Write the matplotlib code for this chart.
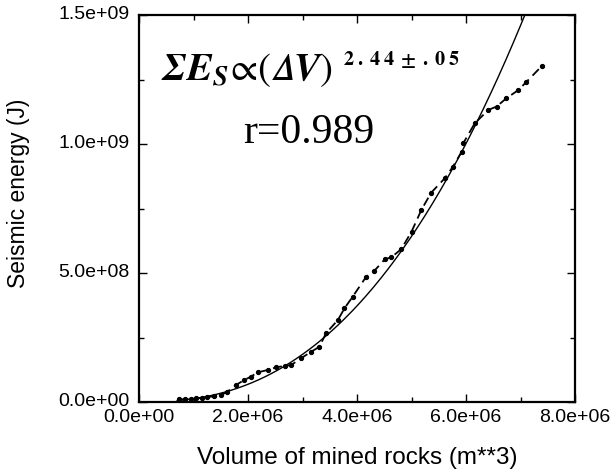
import numpy as np
import matplotlib
matplotlib.use("Agg")
import matplotlib.pyplot as plt
import matplotlib.transforms as mtransforms
from matplotlib.ticker import MultipleLocator

plt.rcParams["font.family"] = ["Liberation Sans", "DejaVu Sans"]
plt.rcParams["mathtext.fontset"] = "stix"

# cumulative mined volume (m^3) vs cumulative seismic energy (J)
volume = np.array([0.74, 0.85, 0.95, 1.05, 1.15, 1.25, 1.38, 1.50, 1.62, 1.78,
                   1.93, 2.05, 2.18, 2.36, 2.51, 2.67, 2.79, 2.97, 3.16, 3.31,
                   3.43, 3.65, 3.77, 3.92, 4.17, 4.32, 4.51, 4.63, 4.81, 5.00,
                   5.18, 5.36, 5.61, 5.76, 5.92, 5.95, 6.16, 6.41, 6.56, 6.74,
                   6.96, 7.11, 7.39]) * 1e6
energy = np.array([0.010, 0.011, 0.012, 0.014, 0.016, 0.019, 0.022, 0.026, 0.040, 0.066,
                   0.085, 0.098, 0.115, 0.124, 0.134, 0.140, 0.143, 0.169, 0.195, 0.214,
                   0.266, 0.318, 0.363, 0.408, 0.486, 0.509, 0.553, 0.561, 0.592, 0.660,
                   0.744, 0.811, 0.867, 0.912, 0.970, 1.003, 1.080, 1.132, 1.145, 1.177,
                   1.209, 1.241, 1.302]) * 1e9

# power-law fit E = a * V^2.44
exponent = 2.44
coef = 1.5e9 / (7.08e6) ** exponent

fig = plt.figure(figsize=(6.1, 4.75), dpi=100)
ax = fig.add_axes([139 / 610, 1 - 402 / 475, 436 / 610, 387 / 475])

vfit = np.linspace(0.7e6, 7.4e6, 300)
ax.plot(vfit, coef * vfit ** exponent, color="black", lw=1.0)
ax.plot(volume, energy, color="black", lw=1.3, ls=(0, (5, 3)),
        marker="o", ms=2.8, mec="black", mfc="black")

ax.set_xlim(0, 8e6)
ax.set_ylim(0, 1.5e9)
ax.xaxis.set_major_locator(MultipleLocator(2e6))
ax.xaxis.set_minor_locator(MultipleLocator(1e6))
ax.yaxis.set_major_locator(MultipleLocator(5e8))
ax.yaxis.set_minor_locator(MultipleLocator(2.5e8))
ax.xaxis.set_major_formatter(lambda v, p: f"{v:.1e}")
ax.yaxis.set_major_formatter(lambda v, p: f"{v:.1e}")
ax.tick_params(which="both", direction="in", top=True, right=True,
               labelsize=14, width=1.0, color="black")
ax.tick_params(which="major", length=6)
ax.tick_params(which="minor", length=3.5)
ax.tick_params(axis="x", which="major", pad=5)
ax.tick_params(axis="y", which="major", pad=7)
for s in ax.spines.values():
    s.set_linewidth(1.6)

# y tick labels sit a little above their ticks
lift = mtransforms.ScaledTranslation(0, 2 / 72, fig.dpi_scale_trans)
for lab in ax.get_yticklabels():
    lab.set_transform(lab.get_transform() + lift)

ax.set_xlabel("Volume of mined rocks (m**3)", fontsize=17.5)
ax.xaxis.set_label_coords(0.5, -0.115)
ax.set_ylabel("Seismic energy (J)", fontsize=16.5)
ax.yaxis.set_label_coords(-0.25, 0.54)

# fitted relation: main term and its exponent
ax.text(0.05, 0.832,
        r"$\mathbfit{\Sigma}\mathbfit{E}_{\mathbfit{S}}\!\propto\!(\mathit{𝛥}\mathbfit{V})$",
        transform=ax.transAxes, fontsize=28, ha="left", va="baseline")
ax.text(0.467, 0.871,
        r"$\mathbf{2\;.\;4\;4\;\pm\;.\;0\;5}$",
        transform=ax.transAxes, fontsize=14.5, ha="left", va="baseline")
ax.text(0.39, 0.670, "r=0.989", transform=ax.transAxes, fontsize=30,
        family="Liberation Serif", ha="center", va="baseline")

fig.savefig("out.png", dpi=100)
